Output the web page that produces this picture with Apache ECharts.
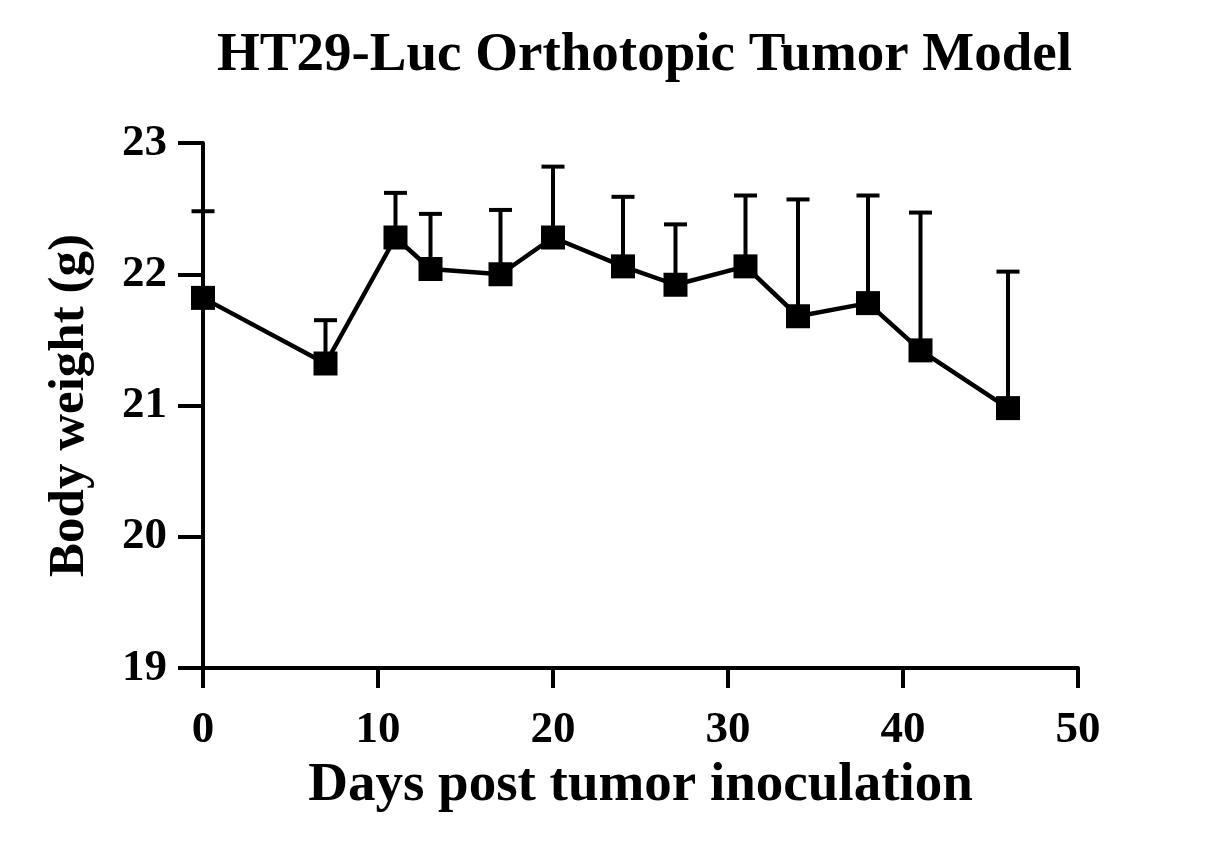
<!DOCTYPE html>
<html>
<head>
<meta charset="utf-8">
<script src="https://cdn.jsdelivr.net/npm/echarts@6/dist/echarts.min.js"></script>
<style>
  html, body { margin: 0; padding: 0; background: #fff; }
  #chart { width: 1213px; height: 847px; }
</style>
</head>
<body>
<div id="chart"></div>
<script>
// days after inoculation, mean body weight (g) and upper error (SD)
var days = [0, 7, 11, 13, 17, 20, 24, 27, 31, 34, 38, 41, 46];
var weight = [21.82, 21.32, 22.28, 22.04, 22.00, 22.28, 22.06, 21.92, 22.06, 21.68, 21.78, 21.42, 20.98];
var errUp = [0.66, 0.33, 0.34, 0.42, 0.49, 0.54, 0.53, 0.46, 0.54, 0.89, 0.82, 1.05, 1.04];
var xTicks = [0, 10, 20, 30, 40, 50];
var yTicks = [19, 20, 21, 22, 23];

var FONT = '"Liberation Serif", "Times New Roman", serif';

var lineData = days.map(function (d, i) { return [d, weight[i]]; });
var errData = days.map(function (d, i) { return [d, weight[i], weight[i] + errUp[i]]; });

var myChart = echarts.init(document.getElementById('chart'));
var option = {
    animation: false,
    title: {
        text: 'HT29-Luc Orthotopic Tumor Model',
        left: 212,
        top: 23,
        textStyle: { fontFamily: FONT, fontWeight: 'bold', fontSize: 55, color: '#000' }
    },
    grid: { left: 203, right: 135, top: 143, bottom: 179 },
    xAxis: {
        type: 'value',
        min: xTicks[0],
        max: xTicks[xTicks.length - 1],
        interval: 10,
        name: 'Days post tumor inoculation',
        nameLocation: 'middle',
        nameGap: 88,
        nameTextStyle: { fontFamily: FONT, fontWeight: 'bold', fontSize: 55, color: '#000' },
        axisLine: { lineStyle: { color: '#000', width: 4 } },
        axisTick: { length: 20, lineStyle: { color: '#000', width: 4 } },
        axisLabel: { fontFamily: FONT, fontWeight: 'bold', fontSize: 45, color: '#000', margin: 40 },
        splitLine: { show: false }
    },
    yAxis: {
        type: 'value',
        min: yTicks[0],
        max: yTicks[yTicks.length - 1],
        interval: 1,
        name: 'Body weight (g)',
        nameLocation: 'middle',
        nameGap: 108,
        nameTextStyle: { fontFamily: FONT, fontWeight: 'bold', fontSize: 51, color: '#000' },
        axisLine: { show: true, lineStyle: { color: '#000', width: 4 } },
        axisTick: { show: true, length: 25, lineStyle: { color: '#000', width: 4 } },
        axisLabel: { fontFamily: FONT, fontWeight: 'bold', fontSize: 45, color: '#000', margin: 36 },
        splitLine: { show: false }
    },
    series: [{
        type: 'custom',
        z: 1,
        data: errData,
        renderItem: function (params, api) {
            var base = api.coord([api.value(0), api.value(1)]);
            var top = api.coord([api.value(0), api.value(2)]);
            var half = 11.5;
            var style = { stroke: '#000', lineWidth: 4, fill: null };
            return {
                type: 'group',
                children: [
                    { type: 'line', shape: { x1: base[0], y1: base[1], x2: top[0], y2: top[1] }, style: style },
                    { type: 'line', shape: { x1: top[0] - half, y1: top[1], x2: top[0] + half, y2: top[1] }, style: style }
                ]
            };
        }
    }, {
        type: 'line',
        z: 2,
        data: lineData,
        symbol: 'rect',
        symbolSize: 24,
        itemStyle: { color: '#000' },
        lineStyle: { color: '#000', width: 4.5 }
    }]
};
myChart.setOption(option);
</script>
</body>
</html>
